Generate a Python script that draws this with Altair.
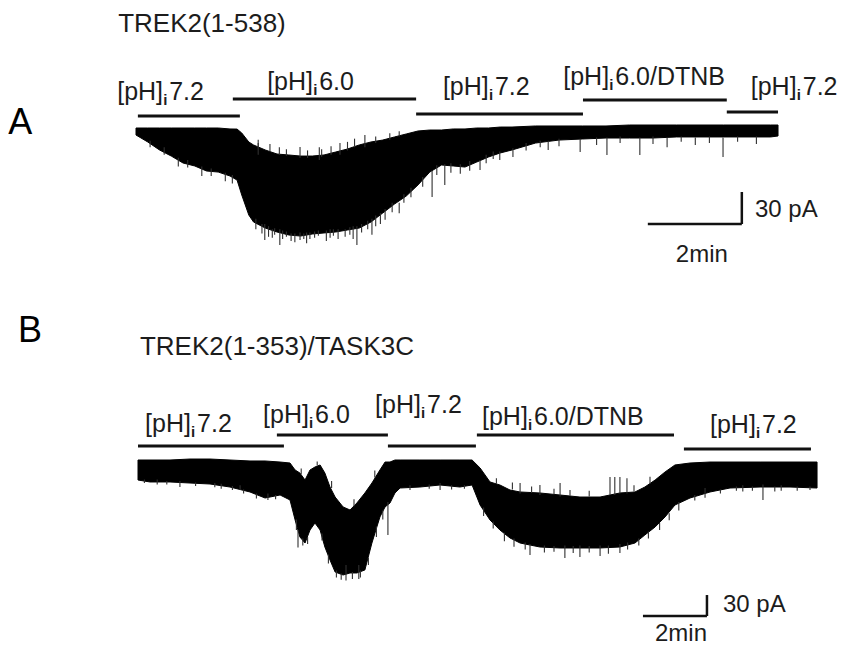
import altair as alt
import pandas as pd

# ---------------- Panel A : TREK2(1-538) ----------------
# time (min) and current envelope (pA, inward = negative)
tA = [0, 0.25, 0.5, 0.75, 1.0, 1.25, 1.5, 1.75, 2.0, 2.15, 2.25, 2.4, 2.5, 2.75,
      3.0, 3.25, 3.5, 3.75, 4.0, 4.25, 4.5, 4.75, 5.0, 5.25, 5.5, 5.75, 6.0,
      6.25, 6.5, 6.75, 7.0, 7.25, 7.5, 7.75, 8.0, 8.5, 9.0, 9.5, 10.0, 10.5,
      11.0, 11.5, 12.0, 12.5, 13.0, 13.5, 13.66]
topA = [0, 0, 0, 0, 0, 0, 0, 0, -0.9, -1.0, -4.7, -13.1, -15.9, -20.6,
        -24.4, -25.3, -26.3, -26.3, -25.3, -22.5, -19.7, -15.9, -13.1, -11.3, -8.4, -5.6, -2.8,
        -1.9, -1.9, -0.9, -0.9, 0, 0, 0.9, 0.9, 1.9, 1.9, 1.9, 1.9, 2.8,
        2.8, 2.8, 2.8, 2.8, 2.8, 2.8, 2.8]
botA = [-6.6, -13.1, -20.6, -26.3, -32.8, -35.6, -40.3, -41.3, -45.0, -48.8, -62.8, -81.6, -88.1, -93.8,
        -97.5, -100.3, -101.3, -99.4, -98.4, -97.5, -95.6, -93.8, -88.1, -79.7, -71.3, -63.8, -53.4,
        -41.3, -34.7, -35.6, -36.6, -31.9, -27.2, -23.4, -20.6, -14.1, -11.3, -10.3, -9.4, -9.4,
        -9.4, -8.4, -8.4, -8.4, -8.4, -8.4, -7.5]
# noise spikes: time, inner end, tip (pA)
spkA_t = [2.74, 3.06, 3.49, 4.13, 4.70, 5.02, 6.30, 6.57, 7.32, 7.74, 8.02, 8.77, 9.45, 10.02,
          10.72, 12.49, 3.49, 4.34, 4.87, 9.0, 9.8, 11.3, 11.9, 13.2, 0.9, 1.4, 1.9,
          2.9, 3.3, 3.7, 4.45, 5.2, 5.6, 2.6, 3.9,
          2.55, 2.68, 2.82, 2.95, 3.12, 3.2, 3.38, 3.57, 3.63, 3.8, 3.88, 4.05, 4.2, 4.3,
          4.55, 4.62, 4.8, 4.93, 5.1, 5.3, 5.45, 5.7, 5.85, 6.1, 6.4, 6.7, 6.9, 7.1,
          7.45, 7.6, 8.3, 8.6, 10.3, 11.0, 11.6, 12.2, 12.8,
          2.6, 2.85, 3.05, 3.2, 3.65, 3.95, 4.15, 4.5, 4.65, 5.1, 5.4, 5.6,
          0.3, 0.6, 1.1, 1.6, 2.05]
spkA_b = [-90, -95, -98, -95, -92, -85, -40, -34, -30, -22, -19, -12, -10, -9,
          -9, -9, -28, -25, -18, -10, -9, -9, -9, -8, -28, -36, -42,
          -95, -99, -98, -95, -80, -70, -25, -30,
          -85, -90, -92, -94, -96, -97, -99, -99, -98, -97, -96, -96, -95, -95,
          -93, -92, -90, -87, -82, -76, -70, -62, -56, -46, -35, -33, -34, -31,
          -25, -22, -14, -12, -8, -8, -8, -8, -8,
          -18, -22, -25, -26, -28, -27, -25, -21, -18, -14, -11, -8,
          -12, -18, -30, -38, -44]
spkA_e = [-105, -109.7, -105, -103, -109.7, -100, -64.7, -53.4, -39.4, -30, -27.2, -20.6, -22.5, -25.3,
          -25.3, -27.2, -17.8, -14, -6.6, -17, -16, -18, -16, -15, -36, -45, -50,
          -103, -106, -104, -102, -90, -80, -14, -18,
          -95, -99, -102, -100, -104, -102, -107, -104, -108, -103, -101, -106, -101, -104,
          -100, -104, -98, -95, -92, -86, -79, -70, -65, -55, -44, -42, -43, -40,
          -33, -29, -21, -18, -14, -15, -13, -14, -13,
          -11, -15, -18, -20, -21, -20, -17, -13, -10, -8, -5, -3,
          -18, -25, -37, -45, -52]
# solution bars: start, end (min), level (pA)
barA_t0 = [0.04, 2.06, 5.96, 9.51, 12.57]
barA_t1 = [2.21, 5.96, 9.51, 12.57, 13.66]
barA_lv = [11.25, 27.2, 13.1, 26.2, 15.0]
labA_val = ["7.2", "6.0", "7.2", "6.0/DTNB", "7.2"]
labA_t = [-0.40, 2.79, 6.53, 9.09, 13.08]
labA_lv = [26.25, 35.6, 30.9, 40.3, 30.9]

# ---------------- Panel B : TREK2(1-353)/TASK3C ----------------
tB = [0.0, 0.375, 1.0, 1.625, 2.25, 2.875, 3.5, 3.97, 4.44, 4.75, 4.91, 5.06, 5.22, 5.375,
      5.53, 5.69, 5.84, 6.0, 6.16, 6.41, 6.625, 6.84, 7.09, 7.31, 7.56, 7.72, 7.875, 8.03,
      8.19, 8.81, 9.44, 10.06, 10.44, 10.69, 11.0, 11.31, 11.625, 11.94, 12.56, 13.19, 13.81,
      14.44, 15.06, 15.53, 15.84, 16.16, 16.47, 16.78, 17.25, 17.875, 18.5, 19.44, 20.375, 21.22]
topB = [0, 0, 0, 1.4, 1.4, 0, -1.4, -1.4, -2.9, -4.3, -14.3, -18.6, -28.6, -14.3,
        -10.0, -7.1, -18.6, -38.6, -52.9, -67.1, -71.4, -61.4, -47.1, -32.9, -14.3, -2.9, -2.9, 0,
        0, 0, 0, 0, 0, -11.4, -31.4, -35.7, -42.9, -45.7, -47.1, -50.0, -52.9,
        -52.9, -47.1, -45.7, -38.6, -28.6, -17.1, -7.1, -4.3, -2.9, -2.9, -2.9, -2.9, -2.9]
botB = [-28.6, -31.4, -31.4, -32.9, -34.3, -38.6, -45.7, -54.3, -50.0, -57.1, -85.7, -110.0, -118.6, -100.0,
        -90.0, -100.0, -124.3, -142.9, -160.0, -164.3, -161.4, -161.4, -157.1, -118.6, -81.4, -67.1, -61.4, -47.1,
        -40.0, -38.6, -35.7, -38.6, -35.7, -64.3, -85.7, -100.0, -111.4, -118.6, -124.3, -125.7, -125.7,
        -125.7, -124.3, -118.6, -107.1, -95.7, -81.4, -64.3, -54.3, -45.7, -40.0, -38.6, -38.6, -40.0]
spkB_t = [7.81, 1.31, 3.19, 4.06, 9.44, 12.25, 13.34, 13.81, 14.44, 15.06, 14.75, 14.9, 15.06,
          15.28, 12.56, 13.19, 11.94, 19.53, 17.72, 5.0, 6.5, 6.9, 0.6, 2.6, 18.9, 20.1,
          0.2, 0.9, 1.8, 2.4, 2.95, 3.3, 3.7, 4.3,
          4.95, 5.15, 5.3, 5.75, 5.95, 6.2, 6.35, 6.7, 6.95, 7.2, 7.45, 7.65,
          5.1, 5.6, 6.05, 6.75, 7.4,
          8.5, 9.1, 9.8, 10.2,
          10.8, 11.1, 11.45, 11.75, 12.1, 12.7, 13.0, 13.6, 14.1, 14.7, 15.3, 15.65, 15.95, 16.3, 16.6, 16.9,
          11.2, 11.7, 12.3, 13.0, 13.5, 14.1, 15.5, 16.0,
          17.4, 18.2, 18.7, 19.2, 19.9, 20.6, 21.0]
spkB_b = [-60, -30, -36, -48, -33, -120, -122, -122, -122, -120, -50, -50, -48,
          -48, -50, -52, -48, -35, -40, -100, -150, -150, -28, -34, -36, -36,
          -28, -30, -32, -33, -37, -42, -48, -50,
          -85, -112, -110, -105, -135, -158, -162, -160, -158, -140, -95, -72,
          -20, -8, -40, -66, -25,
          -36, -35, -36, -36,
          -68, -88, -104, -112, -118, -122, -123, -123, -123, -122, -118, -112, -102, -90, -76, -60,
          -34, -42, -47, -49, -51, -52, -45, -34,
          -50, -42, -38, -38, -38, -38, -38]
spkB_e = [-107, -38.6, -42.9, -57, -42.9, -135.7, -140, -138.6, -137, -133, -24.3, -24.3, -24.3,
          -26, -35.7, -33, -33, -57, -54, -125, -172, -170, -35, -41, -45, -44,
          -33, -35, -37, -39, -43, -48, -55, -56,
          -100, -122, -120, -115, -148, -168, -171, -170, -168, -150, -110, -85,
          -12, -2, -30, -56, -15,
          -43, -41, -42, -41,
          -80, -98, -116, -124, -128, -132, -131, -133, -132, -134, -128, -122, -112, -100, -86, -72,
          -26, -32, -38, -41, -43, -44, -36, -24,
          -58, -48, -44, -44, -45, -44, -43]
barB_t0 = [0.0, 4.34, 7.81, 10.59, 17.06]
barB_t1 = [4.56, 7.81, 10.56, 16.75, 21.03]
barB_lv = [20.0, 35.7, 20.0, 35.7, 15.7]
labB_val = ["7.2", "6.0", "7.2", "6.0/DTNB", "7.2"]
labB_t = [0.22, 3.91, 7.41, 10.75, 17.875]
labB_lv = [40.0, 52.9, 67.1, 50.0, 38.6]

# scale bars: 2 min and 30 pA
SB_MIN, SB_PA = 2.0, 30.0
sbA_t, sbA_lv = 10.89, -90.0
sbB_t, sbB_lv = 15.78, -222.9

# ---------------- layout (pixel geometry of the figure) ----------------
W, H = 830, 639
FONT = "Liberation Sans"
INK = "#1c1c1c"


def scales(x0_px, px_per_min, y0_px, px_per_pa):
    xs = alt.Scale(domain=[-x0_px / px_per_min, (W - x0_px) / px_per_min], nice=False, zero=False)
    ys = alt.Scale(domain=[-(H - y0_px) / px_per_pa, y0_px / px_per_pa], nice=False, zero=False)
    return xs, ys


def panel(t, top, bot, st, sb, se, b0, b1, blv, lval, lt, llv, sbt, sblv,
          title, title_t, title_lv, letter, letter_t, letter_lv,
          pa_t, pa_lv, min_t, min_lv, xs, ys):
    X = lambda f, **k: alt.X(f, scale=xs, axis=None, **k)
    Y = lambda f, **k: alt.Y(f, scale=ys, axis=None, **k)
    trace = alt.Chart(pd.DataFrame({"t": t, "top": top, "bot": bot})).mark_area(
        color="black", stroke="black", strokeWidth=1, interpolate="linear"
    ).encode(x=X("t:Q"), y=Y("top:Q"), y2="bot:Q")
    spikes = alt.Chart(pd.DataFrame({"t": st, "b": sb, "e": se})).mark_rule(
        color="#303030", strokeWidth=1.1
    ).encode(x=X("t:Q"), y=Y("b:Q"), y2="e:Q")
    bars = alt.Chart(pd.DataFrame({"t0": b0, "t1": b1, "lv": blv})).mark_rule(
        color="#111", strokeWidth=3
    ).encode(x=X("t0:Q"), x2="t1:Q", y=Y("lv:Q"))
    ldf = pd.DataFrame({"t": lt, "lv": llv, "v": lval, "p": "[pH]", "i": "i"})
    base = alt.Chart(ldf)
    l1 = base.mark_text(font=FONT, fontSize=25, align="left", baseline="alphabetic", color=INK).encode(
        x=X("t:Q"), y=Y("lv:Q"), text="p:N")
    l2 = base.mark_text(font=FONT, fontSize=15, fontWeight="bold", align="left", baseline="alphabetic",
                        color=INK, dx=46, dy=5).encode(x=X("t:Q"), y=Y("lv:Q"), text="i:N")
    l3 = base.mark_text(font=FONT, fontSize=25, align="left", baseline="alphabetic", color=INK,
                        dx=52).encode(x=X("t:Q"), y=Y("lv:Q"), text="v:N")
    sbdf = pd.DataFrame({"t0": [sbt, sbt + SB_MIN], "t1": [sbt + SB_MIN, sbt + SB_MIN],
                         "y0": [sblv, sblv], "y1": [sblv, sblv + SB_PA]})
    sbar = alt.Chart(sbdf).mark_rule(color="#111", strokeWidth=2.5).encode(
        x=X("t0:Q"), x2="t1:Q", y=Y("y0:Q"), y2="y1:Q")
    tdf = pd.DataFrame({
        "t": [title_t, letter_t, pa_t, min_t],
        "lv": [title_lv, letter_lv, pa_lv, min_lv],
        "s": [title, letter, f"{int(SB_PA)} pA", f"{int(SB_MIN)}min"],
        "k": ["title", "letter", "pa", "min"],
    })
    tb = alt.Chart(tdf)
    t_title = tb.transform_filter("datum.k == 'title'").mark_text(
        font=FONT, fontSize=26, align="left", baseline="alphabetic", color=INK).encode(
        x=X("t:Q"), y=Y("lv:Q"), text="s:N")
    t_letter = tb.transform_filter("datum.k == 'letter'").mark_text(
        font=FONT, fontSize=36, align="left", baseline="alphabetic", color="black").encode(
        x=X("t:Q"), y=Y("lv:Q"), text="s:N")
    t_pa = tb.transform_filter("datum.k == 'pa'").mark_text(
        font=FONT, fontSize=24, align="left", baseline="alphabetic", color=INK).encode(
        x=X("t:Q"), y=Y("lv:Q"), text="s:N")
    t_min = tb.transform_filter("datum.k == 'min'").mark_text(
        font=FONT, fontSize=24, align="center", baseline="alphabetic", color=INK).encode(
        x=X("t:Q"), y=Y("lv:Q"), text="s:N")
    return alt.layer(trace, spikes, bars, l1, l2, l3, sbar, t_title, t_letter, t_pa, t_min)


xsA, ysA = scales(128, 47.0, 120, 32 / 30)
xsB, ysB = scales(130, 32.0, 452, 0.7)

panelA = panel(tA, topA, botA, spkA_t, spkA_b, spkA_e, barA_t0, barA_t1, barA_lv,
               labA_val, labA_t, labA_lv, sbA_t, sbA_lv,
               "TREK2(1-538)", -0.38, 90.0, "A", -2.72, -5.6,
               13.17, -83.0, 12.04, -125.6, xsA, ysA)
panelB = panel(tB, topB, botB, spkB_t, spkB_b, spkB_e, barB_t0, barB_t1, barB_lv,
               labB_val, labB_t, labB_lv, sbB_t, sbB_lv,
               "TREK2(1-353)/TASK3C", 0.06, 150.0, "B", -3.75, 168.6,
               18.28, -217.1, 16.97, -259.0, xsB, ysB)

chart = alt.layer(panelA, panelB).resolve_scale(
    x="independent", y="independent"
).properties(
    width=W, height=H, padding=0,
    autosize=alt.AutoSizeParams(type="none"),
    background="white",
).configure_view(stroke=None)

chart.save("out.html", embed_options={"renderer": "svg", "actions": False})
